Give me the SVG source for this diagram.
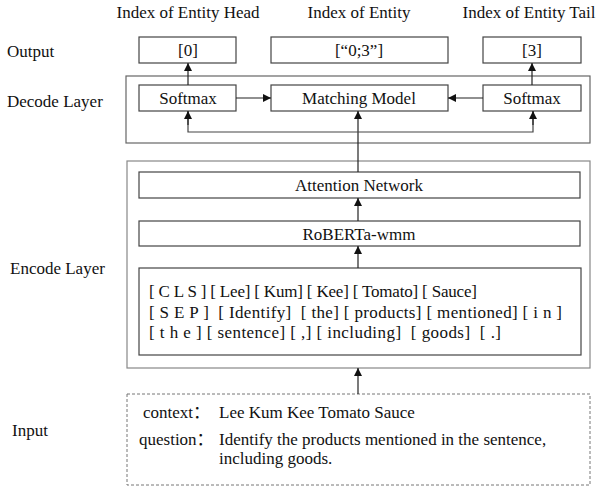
<svg xmlns="http://www.w3.org/2000/svg" width="600" height="490" viewBox="0 0 600 490">
<style>
text{font-family:"Liberation Serif","Noto Sans CJK SC",serif;font-size:17px;fill:#111}
.c{text-anchor:middle}
.box{fill:#fff;stroke:#444;stroke-width:1.2}
.outer{fill:none;stroke:#888;stroke-width:1.2}
.dash{fill:none;stroke:#777;stroke-width:1;stroke-dasharray:3 2}
.ln{fill:none;stroke:#222;stroke-width:1.2}
</style>
<defs>
<marker id="ah" viewBox="0 0 10 10" refX="10" refY="5" markerWidth="8" markerHeight="8" markerUnits="userSpaceOnUse" orient="auto">
<path d="M0,0 L10,5 L0,10 z" fill="#111"/>
</marker>
</defs>
<rect width="600" height="490" fill="#fff"/>

<g id="labels">
<text class="c" x="188" y="18">Index of Entity Head</text>
<text class="c" x="359" y="18">Index of Entity</text>
<text class="c" x="529" y="18">Index of Entity Tail</text>
<text x="7" y="57">Output</text>
<text x="7" y="107">Decode Layer</text>
<text x="10" y="274">Encode Layer</text>
<text x="12" y="436">Input</text>
</g>

<g id="decode-layer"><rect class="outer" x="126" y="76" width="464" height="67" style="stroke:#666"/></g>
<g id="encode-layer"><rect class="outer" x="127" y="161" width="463" height="207"/></g>

<g id="out-head"><rect class="box" x="139" y="37" width="97" height="26"/><text class="c" x="188" y="56">[0]</text></g>
<g id="out-entity"><rect class="box" x="271" y="37" width="177" height="26"/><text class="c" x="359" y="56">[“0;3”]</text></g>
<g id="out-tail"><rect class="box" x="483" y="37" width="98" height="26"/><text class="c" x="532" y="56">[3]</text></g>

<g id="softmax-left"><rect class="box" x="139" y="85" width="97" height="26"/><text class="c" x="188" y="104">Softmax</text></g>
<g id="matching"><rect class="box" x="271" y="85" width="177" height="26"/><text class="c" x="359" y="104">Matching Model</text></g>
<g id="softmax-right"><rect class="box" x="483" y="85" width="98" height="26"/><text class="c" x="532" y="104">Softmax</text></g>

<g id="attention"><rect class="box" x="139" y="172" width="441" height="26"/><text class="c" x="359" y="191">Attention Network</text></g>
<g id="roberta"><rect class="box" x="139" y="221" width="441" height="25"/><text class="c" x="359" y="240">RoBERTa-wmm</text></g>

<g id="tokens">
<rect class="box" x="139" y="268" width="442" height="87"/>
<text x="149" y="297" xml:space="preserve" textLength="328" lengthAdjust="spacing">[ C L S ] [ Lee] [ Kum] [ Kee] [ Tomato] [ Sauce]</text>
<text x="149" y="318" xml:space="preserve" textLength="413" lengthAdjust="spacing">[ S E P ]  [ Identify]  [ the] [ products] [ mentioned] [ i n ]</text>
<text x="149" y="338" xml:space="preserve" textLength="352" lengthAdjust="spacing">[ t h e ] [ sentence] [ ,] [ including]  [ goods]  [ .]</text>
</g>

<g id="input">
<rect class="dash" x="127" y="394" width="463" height="91"/>
<text x="143" y="418">context：</text>
<text x="219" y="418">Lee Kum Kee Tomato Sauce</text>
<text x="139" y="445">question：</text>
<text x="219" y="445">Identify the products mentioned in the sentence,</text>
<text x="219" y="464">including goods.</text>
</g>

<g id="connectors">
<line class="ln" x1="358" y1="394" x2="358" y2="368" marker-end="url(#ah)"/>
<line class="ln" x1="358" y1="268" x2="358" y2="246" marker-end="url(#ah)"/>
<line class="ln" x1="358" y1="221" x2="358" y2="198" marker-end="url(#ah)"/>
<line class="ln" x1="358" y1="172" x2="358" y2="111" marker-end="url(#ah)"/>
<polyline class="ln" points="188,111 188,132 533,132 533,111" style="stroke:#444"/>
<line class="ln" x1="188" y1="125" x2="188" y2="111" marker-end="url(#ah)"/>
<line class="ln" x1="533" y1="125" x2="533" y2="111" marker-end="url(#ah)"/>
<line class="ln" x1="236" y1="98" x2="271" y2="98" marker-end="url(#ah)"/>
<line class="ln" x1="483" y1="98" x2="448" y2="98" marker-end="url(#ah)"/>
<line class="ln" x1="188" y1="85" x2="188" y2="63" marker-end="url(#ah)"/>
<line class="ln" x1="532" y1="85" x2="532" y2="63" marker-end="url(#ah)"/>
</g>
</svg>
